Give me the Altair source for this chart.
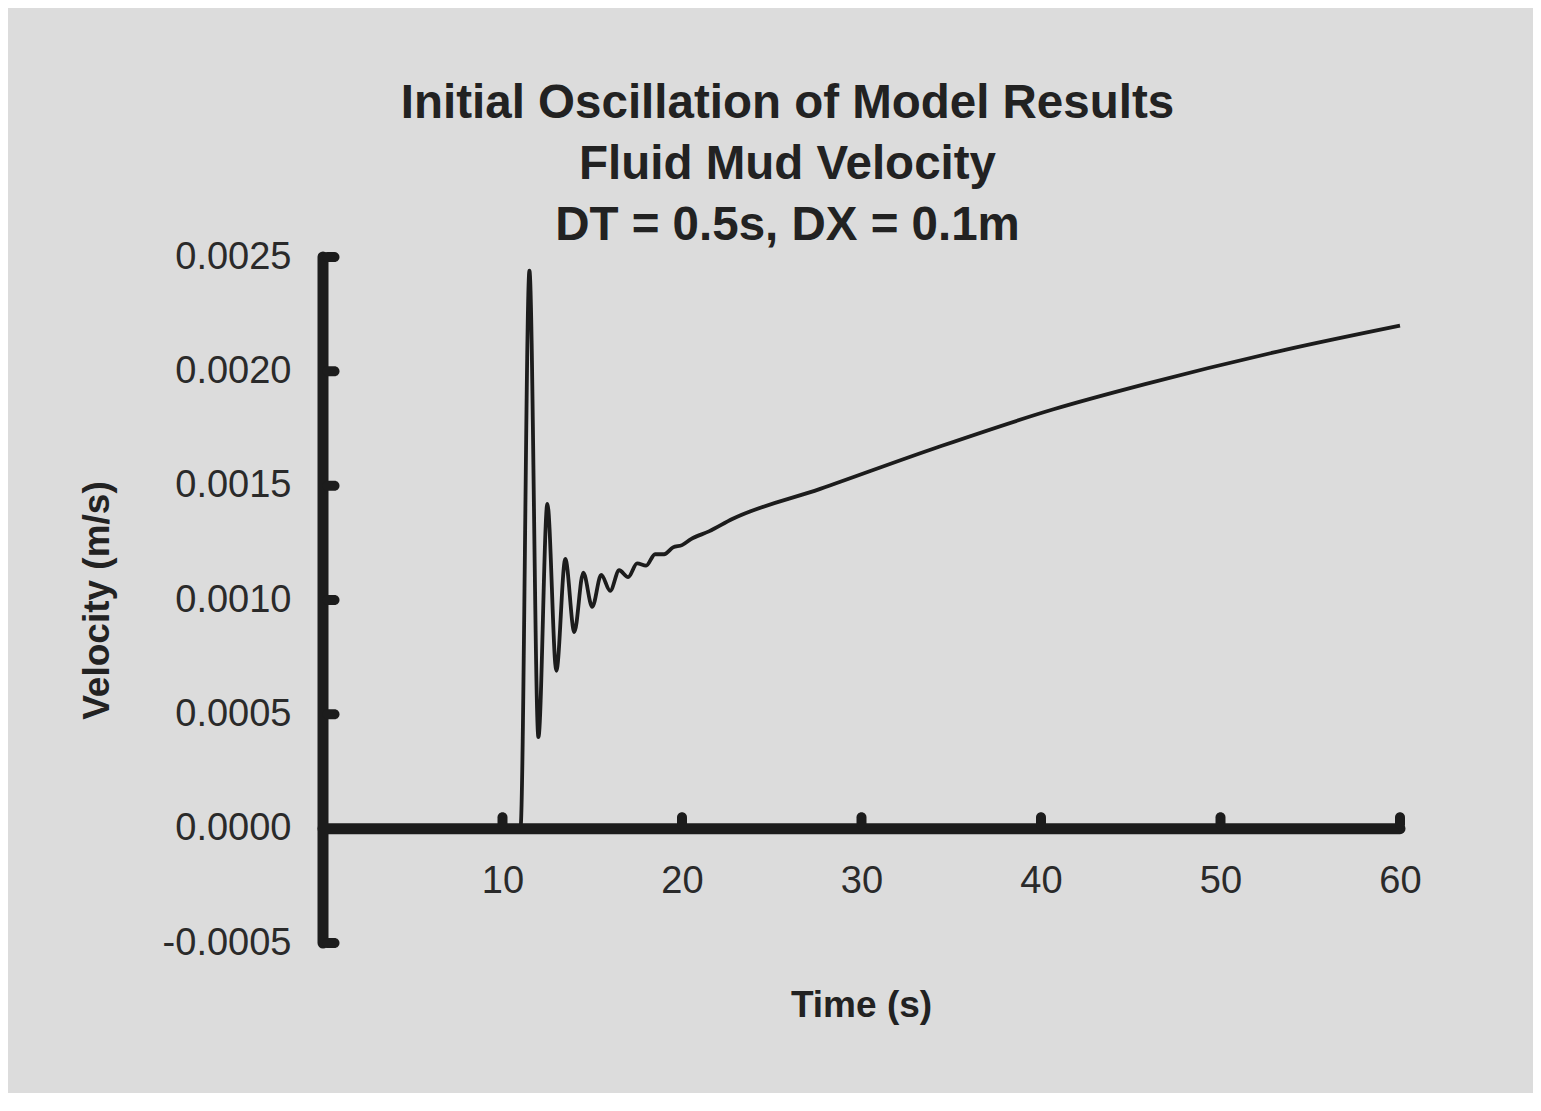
import altair as alt
import pandas as pd

# ---- data ----
time_s = [0, 11, 11.5, 12, 12.5, 13, 13.5, 14, 14.5, 15, 15.5, 16, 16.5, 17,
          17.5, 18, 18.5, 19, 19.5, 20, 20.5, 21.5, 22.8, 27.7, 34.2, 40.7,
          45.8, 53.6, 60]
velocity = [0, 0, 0.00244, 0.00040, 0.00142, 0.00069, 0.00118, 0.00086,
            0.00112, 0.00097, 0.00111, 0.00104, 0.00113, 0.00110, 0.00116,
            0.00115, 0.00120, 0.00120, 0.00123, 0.00124, 0.001266, 0.00130,
            0.001354, 0.001486, 0.001667, 0.001834, 0.001944, 0.002094, 0.00220]

x_ticks = [10, 20, 30, 40, 50, 60]
y_ticks = [-0.0005, 0.0000, 0.0005, 0.0010, 0.0015, 0.0020, 0.0025]
x_domain = [0, 60]
y_domain = [-0.0005, 0.0025]

title_lines = ["Initial Oscillation of Model Results", "Fluid Mud Velocity",
               "DT = 0.5s, DX = 0.1m"]

df = pd.DataFrame({"t": time_s, "v": velocity})
xt = pd.DataFrame({"t": x_ticks, "v": [0.0] * len(x_ticks)})
yt = pd.DataFrame({"t": [0.0] * len(y_ticks), "v": y_ticks})
yt = yt[yt["v"] != 0]

FONT = "Liberation Sans"
INK = "#1c1c1c"

xscale = alt.Scale(domain=x_domain, nice=False, zero=False)
yscale = alt.Scale(domain=y_domain, nice=False, zero=False)

line = alt.Chart(df).mark_line(
    color=INK, strokeWidth=3.8, interpolate="monotone"
).encode(
    x=alt.X("t:Q", scale=xscale, axis=alt.Axis(
        values=x_ticks, domain=False, ticks=False, grid=False,
        labelFont=FONT, labelFontSize=38, labelColor="#2a2a2a",
        labelPadding=34, labelFlush=False, labelOverlap=False,
        offset=-114.33,
        title="Time (s)", titleFont=FONT, titleFontSize=37,
        titleFontWeight="bold", titleColor="#222222",
        titleX=538, titleY=177, titleBaseline="middle", titleAlign="center")),
    y=alt.Y("v:Q", scale=yscale, axis=alt.Axis(
        values=y_ticks, domain=False, ticks=False, grid=False,
        labelFont=FONT, labelFontSize=38, labelColor="#2a2a2a",
        labelPadding=32, labelOverlap=False,
        labelExpr="(datum.value < 0 ? '-' : '') + format(abs(datum.value), '.4f')",
        title="Velocity (m/s)", titleFont=FONT, titleFontSize=37,
        titleFontWeight="bold", titleColor="#222222", titleAngle=-90,
        titleX=-226, titleY=343, titleBaseline="middle", titleAlign="center")),
)

axis_df = pd.DataFrame({"x0": [x_domain[0]], "x1": [x_domain[1]],
                        "y0": [y_domain[0]], "y1": [y_domain[1]], "z": [0.0]})

x_axis_line = alt.Chart(axis_df).mark_rule(
    color=INK, strokeWidth=11, strokeCap="round"
).encode(x=alt.X("x0:Q", scale=xscale), x2="x1:Q",
         y=alt.Y("z:Q", scale=yscale))

y_axis_line = alt.Chart(axis_df).mark_rule(
    color=INK, strokeWidth=11, strokeCap="round"
).encode(x=alt.X("z:Q", scale=xscale),
         y=alt.Y("y0:Q", scale=yscale), y2="y1:Q")

x_tick_marks = alt.Chart(xt).mark_tick(
    color=INK, orient="vertical", size=17, thickness=10, opacity=1,
    cornerRadius=5, yOffset=-8
).encode(x=alt.X("t:Q", scale=xscale), y=alt.Y("v:Q", scale=yscale))

y_tick_marks = alt.Chart(yt).mark_tick(
    color=INK, orient="horizontal", size=17, thickness=10, opacity=1,
    cornerRadius=5, xOffset=8
).encode(x=alt.X("t:Q", scale=xscale), y=alt.Y("v:Q", scale=yscale))

chart = alt.layer(
    line, x_axis_line, y_axis_line, x_tick_marks, y_tick_marks
).properties(
    width=1077, height=686,
    autosize=alt.AutoSizeParams(type="none"),
    padding={"left": 315, "top": 249, "right": 133, "bottom": 150},
    background="#dcdcdc",
    title=alt.TitleParams(
        text=title_lines, font=FONT, fontSize=47.5, fontWeight="bold",
        color="#222222", anchor="middle", frame="group", dx=-74, dy=19,
        offset=8, lineHeight=61),
).configure_view(stroke=None)

chart.save("out.html", embed_options={"renderer": "svg", "actions": False})
